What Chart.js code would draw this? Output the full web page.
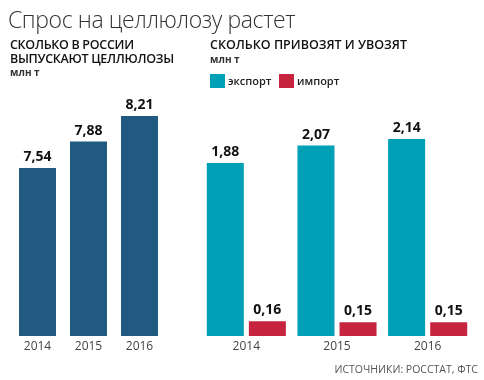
<!DOCTYPE html>
<html>
<head>
<meta charset="utf-8">
<script src="https://cdn.jsdelivr.net/npm/chart.js@4"></script>
<style>
  body { margin: 0; background: #fff; font-family: "Open Sans", sans-serif; }
  #wrap { position: relative; width: 484px; height: 380px; overflow: hidden; }
  canvas { position: absolute; left: 0; top: 0; }
  .t { position: absolute; white-space: nowrap; color: #222; }
  #title { left: 8px; top: 3px; font-size: 23px; font-weight: 300; color: #333; letter-spacing: -0.4px; }
  .sub { font-size: 12.5px; font-weight: 600; line-height: 14px; color: #111; }
  .unit { font-size: 10px; font-weight: 700; color: #333; }
  .sw { position: absolute; width: 15px; height: 14px; }
  .leg { font-size: 11px; font-weight: 600; color: #222; }
  #src { right: 6px; top: 362px; font-size: 10.5px; color: #555; }
</style>
</head>
<body>
<div id="wrap">
  <canvas id="prodChart" width="484" height="380"></canvas>
  <canvas id="tradeChart" width="484" height="380"></canvas>
  <div id="title" class="t">Спрос на целлюлозу растет</div>
  <div class="t sub" style="left:10px; top:38px; letter-spacing:-0.3px;">СКОЛЬКО В РОССИИ<br>ВЫПУСКАЮТ ЦЕЛЛЮЛОЗЫ</div>
  <div class="t unit" style="left:10px; top:65px;">млн т</div>
  <div class="t sub" style="left:210px; top:38px;">СКОЛЬКО ПРИВОЗЯТ И УВОЗЯТ</div>
  <div class="t unit" style="left:210px; top:52px;">млн т</div>
  <div class="sw" style="left:210px; top:74px; background:#00a1b6;"></div>
  <div class="t leg" style="left:228px; top:73px;">экспорт</div>
  <div class="sw" style="left:279px; top:74px; background:#c7243f;"></div>
  <div class="t leg" style="left:297px; top:73px;">импорт</div>
  <div id="src" class="t">ИСТОЧНИКИ: РОССТАТ, ФТС</div>
</div>
<script>
const years = ['2014', '2015', '2016'];
const production = [7.54, 7.88, 8.21];
const exportVals = [1.88, 2.07, 2.14];
const importVals = [0.16, 0.15, 0.15];

const fmt = v => v.toFixed(2).replace('.', ',');

// value labels above each bar
const valueLabels = {
  id: 'valueLabels',
  afterDatasetsDraw(chart) {
    const ctx = chart.ctx;
    ctx.save();
    ctx.font = 'bold 14px "Open Sans", sans-serif';
    ctx.fillStyle = '#111';
    ctx.textAlign = 'center';
    ctx.textBaseline = 'bottom';
    chart.data.datasets.forEach((ds, i) => {
      chart.getDatasetMeta(i).data.forEach((bar, j) => {
        ctx.fillText(fmt(ds.data[j]), bar.x, bar.y - 4);
      });
    });
    ctx.restore();
  }
};

const xAxis = {
  grid: { display: false, drawTicks: false },
  border: { display: false },
  ticks: { color: '#444', font: { family: '"Open Sans", sans-serif', size: 12 }, padding: 3 },
  afterFit: axis => { axis.height = 30; }
};

new Chart(document.getElementById('prodChart'), {
  type: 'bar',
  data: {
    labels: years,
    datasets: [{
      data: production,
      backgroundColor: '#205a80',
      categoryPercentage: 1,
      barPercentage: 0.725
    }]
  },
  options: {
    responsive: false,
    animation: false,
    layout: { padding: { left: 12, right: 319, top: 100, bottom: 14 } },
    plugins: { legend: { display: false }, tooltip: { enabled: false } },
    scales: {
      x: xAxis,
      y: { display: false, min: 5.375, max: 8.416 }
    }
  },
  plugins: [valueLabels]
});

new Chart(document.getElementById('tradeChart'), {
  type: 'bar',
  data: {
    labels: years,
    datasets: [
      { label: 'экспорт', data: exportVals, backgroundColor: '#00a1b6' },
      { label: 'импорт', data: importVals, backgroundColor: '#c7243f' }
    ]
  },
  options: {
    responsive: false,
    animation: false,
    datasets: { bar: { categoryPercentage: 0.928, barPercentage: 0.88 } },
    layout: { padding: { left: 201, right: 11, top: 100, bottom: 14 } },
    plugins: { legend: { display: false }, tooltip: { enabled: false } },
    scales: {
      x: xAxis,
      y: { display: false, min: 0, max: 2.565 }
    }
  },
  plugins: [valueLabels]
});
</script>
</body>
</html>
